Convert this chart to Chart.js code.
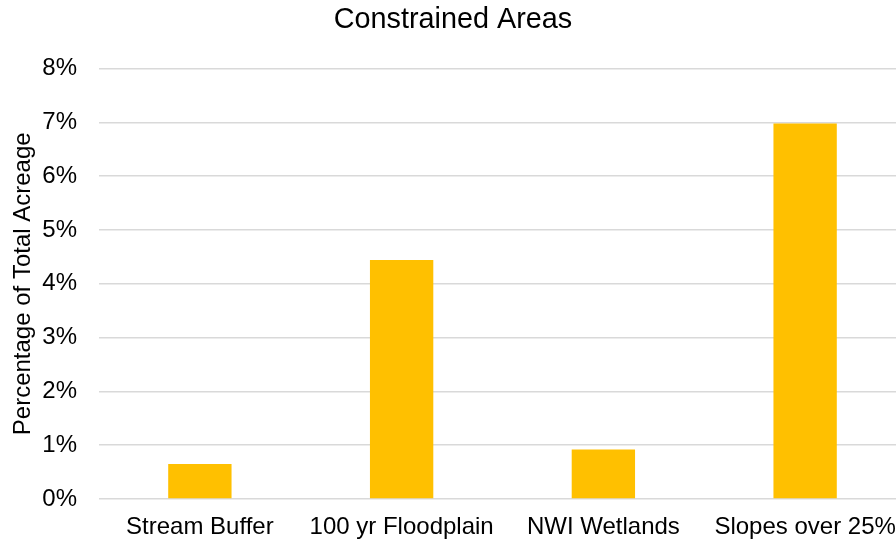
<!DOCTYPE html>
<html>
<head>
<meta charset="utf-8">
<script src="https://cdn.jsdelivr.net/npm/chart.js@4.4.1/dist/chart.umd.min.js"></script>
<style>
  html, body { margin: 0; padding: 0; background: #ffffff; overflow: hidden; }
  #wrap { width: 896px; height: 543px; overflow: hidden; }
</style>
</head>
<body>
<div id="wrap"><canvas id="chart" width="906" height="543"></canvas></div>
<script>
// Share of total acreage falling in each constrained-area type (percent)
const categories = ['Stream Buffer', '100 yr Floodplain', 'NWI Wetlands', 'Slopes over 25%'];
const percentValues = [0.65, 4.44, 0.92, 6.98];
const yTickMax = 8;

const FONT = '"Liberation Sans", Arial, sans-serif';
const TEXT = '#000000';

new Chart(document.getElementById('chart'), {
  type: 'bar',
  data: {
    labels: categories,
    datasets: [{
      data: percentValues,
      backgroundColor: '#ffc000',
      borderWidth: 0,
      categoryPercentage: 1.0,
      barPercentage: 0.314
    }]
  },
  options: {
    responsive: false,
    animation: false,
    layout: { padding: 0 },
    plugins: {
      legend: { display: false },
      tooltip: { enabled: false },
      title: {
        display: true,
        text: 'Constrained Areas',
        color: TEXT,
        font: { family: FONT, size: 28.8, weight: 'normal' },
        padding: { top: 3, bottom: 31 }
      }
    },
    scales: {
      x: {
        grid: { display: false },
        border: { display: false },
        ticks: {
          color: TEXT,
          font: { family: FONT, size: 24 },
          padding: 6,
          maxRotation: 0
        },
        afterFit: (scale) => { scale.height = 44; }
      },
      y: {
        min: 0,
        max: yTickMax,
        border: { display: false },
        grid: { color: '#d9d9d9', lineWidth: 1.5, drawTicks: false },
        ticks: {
          stepSize: 1,
          color: TEXT,
          font: { family: FONT, size: 24 },
          padding: 22,
          callback: (v) => v + '%'
        },
        title: {
          display: true,
          text: 'Percentage of Total Acreage',
          color: TEXT,
          font: { family: FONT, size: 24 },
          padding: { top: 9, bottom: 0 }
        },
        afterFit: (scale) => { scale.width = 99; }
      }
    }
  }
});
</script>
</body>
</html>
